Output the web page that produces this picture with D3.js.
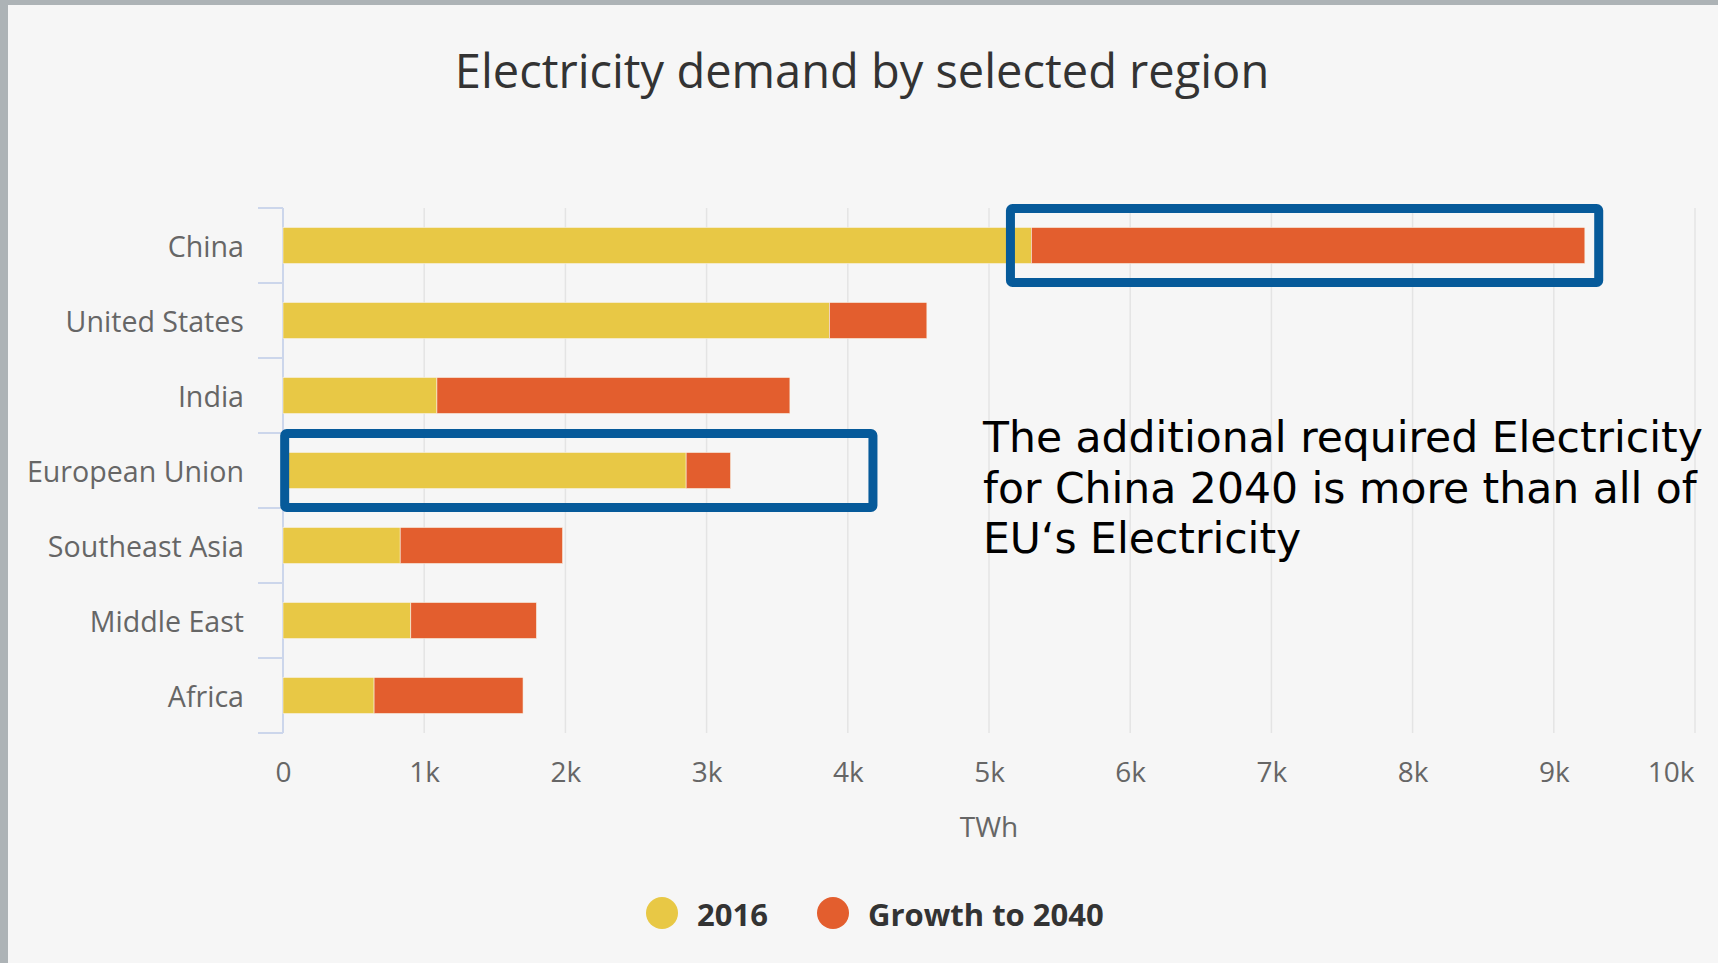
<!DOCTYPE html>
<html>
<head>
<meta charset="utf-8">
<script src="https://cdn.jsdelivr.net/npm/d3@7"></script>
<style>
  body { margin: 0; background: #adb2b5; }
  svg { display: block; }
</style>
</head>
<body>
<svg id="chart" width="1718" height="963"></svg>
<script>
// values, TWh
const regions = ["China", "United States", "India", "European Union", "Southeast Asia", "Middle East", "Africa"];
const demand2016 = [5300, 3870, 1090, 2855, 830, 905, 645];
const growth2040 = [3920, 690, 2500, 315, 1150, 890, 1055];
const xTicks = [0, 1000, 2000, 3000, 4000, 5000, 6000, 7000, 8000, 9000, 10000];
const seriesNames = ["2016", "Growth to 2040"];
const seriesColors = ["#e8c845", "#e35e2e"];

// highlight boxes (region, from, to in TWh)
const boxRegions = ["China", "European Union"];
const boxFrom = [5120, -20];
const boxTo = [9350, 4210];

const noteLines = [
  "The additional required Electricity",
  "for China 2040 is more than all of",
  "EU\u2018s Electricity"
];

const width = 1718;
const height = 963;
const plot = { left: 283, right: 1695, top: 208, bottom: 733 };

const svg = d3.select("#chart");

// page frame + chart background
svg.append("rect")
  .attr("width", width).attr("height", height)
  .attr("fill", "#adb3b6");
svg.append("rect")
  .attr("x", 8).attr("y", 5)
  .attr("width", width - 8).attr("height", height - 5)
  .attr("fill", "#f6f6f6");

const xScale = d3.scaleLinear()
  .domain([0, 10000])
  .range([plot.left, plot.right]);

const yScale = d3.scaleBand()
  .domain(regions)
  .range([plot.top, plot.bottom])
  .paddingInner(0.52)
  .paddingOuter(0.26);

const step = yScale.step();

// title
svg.append("text")
  .attr("x", 862)
  .attr("y", 88)
  .attr("text-anchor", "middle")
  .style("font-family", "'Open Sans', sans-serif")
  .style("font-size", "47px")
  .attr("fill", "#333333")
  .text("Electricity demand by selected region");

// vertical grid lines
svg.append("g")
  .selectAll("line")
  .data(xTicks)
  .enter()
  .append("line")
  .attr("x1", d => xScale(d))
  .attr("x2", d => xScale(d))
  .attr("y1", plot.top)
  .attr("y2", plot.bottom)
  .attr("stroke", "#e4e4e4")
  .attr("stroke-width", 1.5);

// x axis labels
const xAxis = d3.axisBottom(xScale)
  .tickValues(xTicks)
  .tickSize(0)
  .tickPadding(0)
  .tickFormat(d => d === 0 ? "0" : (d / 1000) + "k");

const xg = svg.append("g")
  .attr("transform", `translate(0, 782)`)
  .call(xAxis);
xg.select(".domain").remove();
xg.selectAll("text")
  .attr("y", 0)
  .attr("dy", 0)
  .style("font-family", "'Open Sans', sans-serif")
  .style("font-size", "28px")
  .attr("fill", "#666666");
// last label kept inside the plot like the original
xg.selectAll(".tick text")
  .filter(d => d === 10000)
  .attr("text-anchor", "end")
  .attr("x", -1);

svg.append("text")
  .attr("x", (plot.left + plot.right) / 2)
  .attr("y", 837)
  .attr("text-anchor", "middle")
  .style("font-family", "'Open Sans', sans-serif")
  .style("font-size", "28px")
  .attr("fill", "#666666")
  .text("TWh");

// y axis line and category ticks
const yg = svg.append("g");
yg.append("line")
  .attr("x1", plot.left).attr("x2", plot.left)
  .attr("y1", plot.top).attr("y2", plot.bottom)
  .attr("stroke", "#ccd6eb")
  .attr("stroke-width", 2);

const bounds = regions.map(r => yScale(r) - yScale.paddingOuter() * step)
  .concat([plot.bottom]);
yg.selectAll(".cat-tick")
  .data(bounds)
  .enter()
  .append("line")
  .attr("class", "cat-tick")
  .attr("x1", plot.left - 25).attr("x2", plot.left)
  .attr("y1", d => d).attr("y2", d => d)
  .attr("stroke", "#ccd6eb")
  .attr("stroke-width", 2);

yg.selectAll(".cat-label")
  .data(regions)
  .enter()
  .append("text")
  .attr("class", "cat-label")
  .attr("x", 244)
  .attr("y", d => yScale(d) + yScale.bandwidth() / 2)
  .attr("dy", "0.4em")
  .attr("text-anchor", "end")
  .style("font-family", "'Open Sans', sans-serif")
  .style("font-size", "28.6px")
  .attr("fill", "#666666")
  .text(d => d);

// stacked bars
const rows = regions.map((r, i) => ({ region: r, v2016: demand2016[i], growth: growth2040[i] }));
const stacked = d3.stack().keys(["v2016", "growth"])(rows);

svg.append("g")
  .selectAll("g")
  .data(stacked)
  .enter()
  .append("g")
  .attr("fill", (d, i) => seriesColors[i])
  .selectAll("rect")
  .data(d => d)
  .enter()
  .append("rect")
  .attr("x", d => xScale(d[0]))
  .attr("y", d => yScale(d.data.region))
  .attr("width", d => xScale(d[1]) - xScale(d[0]))
  .attr("height", yScale.bandwidth())
  .attr("stroke", "#f7f2e6")
  .attr("stroke-width", 0.6);

// highlight boxes
const boxH = 74;
svg.append("g")
  .selectAll("rect")
  .data(boxRegions)
  .enter()
  .append("rect")
  .attr("x", (d, i) => xScale(boxFrom[i]) + 4.5)
  .attr("y", d => yScale(d) + yScale.bandwidth() / 2 - boxH / 2)
  .attr("width", (d, i) => xScale(boxTo[i]) - xScale(boxFrom[i]) - 9)
  .attr("height", boxH)
  .attr("rx", 2)
  .attr("fill", "none")
  .attr("stroke", "#065a9a")
  .attr("stroke-width", 9);

// annotation
svg.append("text")
  .attr("x", 983)
  .attr("y", 452)
  .style("font-family", "'DejaVu Sans', sans-serif")
  .style("font-size", "42.5px")
  .attr("fill", "#000000")
  .selectAll("tspan")
  .data(noteLines)
  .enter()
  .append("tspan")
  .attr("x", 983)
  .attr("dy", (d, i) => i === 0 ? 0 : 50.5)
  .text(d => d);

// legend
const legendX = [662, 833];
const legend = svg.append("g").attr("transform", "translate(0, 913)");
legend.selectAll("circle")
  .data(seriesNames)
  .enter()
  .append("circle")
  .attr("cx", (d, i) => legendX[i])
  .attr("cy", 0)
  .attr("r", 16)
  .attr("fill", (d, i) => seriesColors[i]);

legend.selectAll("text")
  .data(seriesNames)
  .enter()
  .append("text")
  .attr("x", (d, i) => legendX[i] + 35)
  .attr("y", 13)
  .style("font-family", "'Open Sans', sans-serif")
  .style("font-size", "31px")
  .style("font-weight", "bold")
  .attr("fill", "#333333")
  .text(d => d);
</script>
</body>
</html>
